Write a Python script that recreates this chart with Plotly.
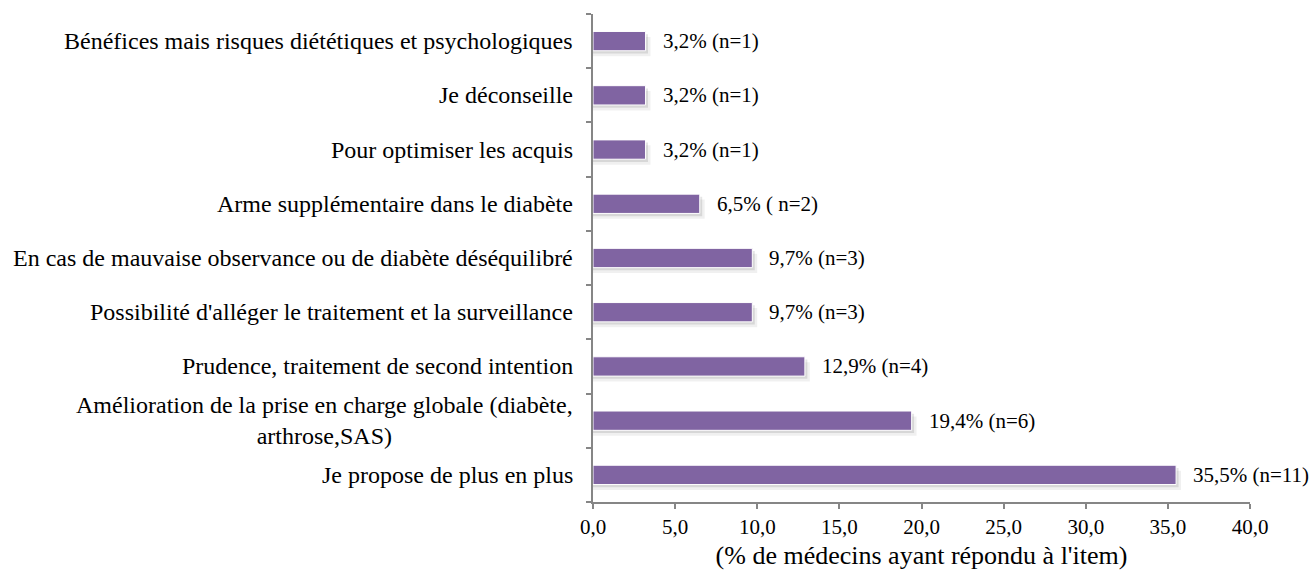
import plotly.graph_objects as go

categories = [
    "Je propose de plus en plus",
    "Amélioration de la prise en charge globale (diabète,<br>arthrose,SAS)",
    "Prudence, traitement de second intention",
    "Possibilité d'alléger le traitement et la surveillance",
    "En cas de mauvaise observance ou de diabète déséquilibré",
    "Arme supplémentaire dans le diabète",
    "Pour optimiser les acquis",
    "Je déconseille",
    "Bénéfices mais risques diététiques et psychologiques",
]
values = [35.5, 19.4, 12.9, 9.7, 9.7, 6.5, 3.2, 3.2, 3.2]
value_labels = [
    "35,5% (n=11)", "19,4% (n=6)", "12,9% (n=4)", "9,7% (n=3)", "9,7% (n=3)",
    "6,5% ( n=2)", "3,2% (n=1)", "3,2% (n=1)", "3,2% (n=1)",
]
x_ticks = [0, 5, 10, 15, 20, 25, 30, 35, 40]

FONT = "Liberation Serif, Times New Roman, DejaVu Serif, serif"
BAR_W = 0.356

fig = go.Figure()
# soft drop shadow (two layers to mimic blur)
for dx, dy, alpha in [(0.3, 0.10, 0.06), (0.15, 0.05, 0.10)]:
    fig.add_trace(go.Bar(
        y=categories, x=[v + dx for v in values], orientation="h",
        width=BAR_W, offset=-BAR_W / 2 - dy,
        marker=dict(color=f"rgba(0,0,0,{alpha})", line=dict(width=0)),
        hoverinfo="skip", showlegend=False,
    ))
fig.add_trace(go.Bar(
    y=categories, x=values, orientation="h",
    width=BAR_W, offset=-BAR_W / 2,
    marker=dict(color="#8064A2", line=dict(color="white", width=1)),
    showlegend=False,
))

annotations = []
for c, v, t in zip(categories, values, value_labels):
    annotations.append(dict(
        x=v, y=c, xref="x", yref="y", text=t, showarrow=False,
        xanchor="left", yanchor="middle", xshift=15,
        font=dict(family=FONT, size=21, color="black"),
    ))
    annotations.append(dict(
        x=0, y=c, xref="paper", yref="y", text=c, showarrow=False,
        xanchor="right", yanchor="middle", xshift=-18, align="center",
        font=dict(family=FONT, size=24, color="black"),
    ))

fig.update_layout(
    width=1313, height=572,
    margin=dict(l=593, r=63, t=14, b=70),
    paper_bgcolor="white", plot_bgcolor="white",
    barmode="overlay",
    separators=", ",
    font=dict(family=FONT, size=21, color="black"),
    annotations=annotations,
    xaxis=dict(
        range=[0, 40], tickvals=x_ticks, tickformat=".1f",
        automargin=False,
        showgrid=False, zeroline=False,
        showline=True, linecolor="#868686", linewidth=1.5,
        ticks="outside", ticklen=5, tickcolor="#868686", tickwidth=1.5,
        tickfont=dict(family=FONT, size=21, color="black"),
        title=dict(text="(% de médecins ayant répondu à l'item)",
                   font=dict(family=FONT, size=26, color="black"), standoff=8),
    ),
    yaxis=dict(
        categoryorder="array", categoryarray=categories,
        range=[-0.5, len(categories) - 0.5],
        automargin=False,
        showgrid=False, zeroline=False,
        showline=True, linecolor="#868686", linewidth=1.5,
        ticks="outside", tickson="boundaries", ticklen=5,
        tickcolor="#868686", tickwidth=1.5,
        showticklabels=False,
    ),
)

fig.write_html(
    "out.html",
    config={"displayModeBar": False},
    post_script="document.body.style.margin='0';document.body.style.overflow='hidden';",
)
